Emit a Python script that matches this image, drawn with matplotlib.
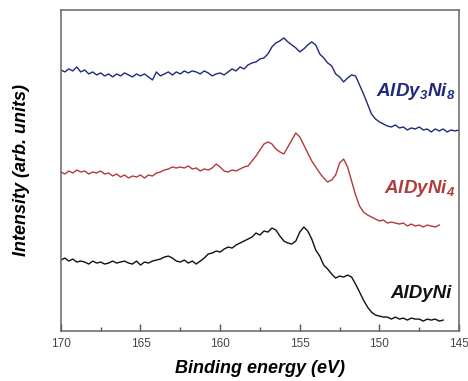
import numpy as np
import matplotlib
matplotlib.use("Agg")
import matplotlib.pyplot as plt
from matplotlib.ticker import MultipleLocator

plt.rcParams['font.family'] = ['Liberation Sans', 'DejaVu Sans']
plt.rcParams['mathtext.fontset'] = 'custom'
plt.rcParams['mathtext.rm'] = 'Liberation Sans:italic:bold'
plt.rcParams['mathtext.it'] = 'Liberation Sans:italic:bold'

# binding energy grids (eV), 0.25 eV step
e_blue = np.arange(170.0, 144.99, -0.25)
e_red = np.arange(170.0, 146.24, -0.25)
e_black = np.arange(170.0, 145.99, -0.25)

# intensities (arb. units)
i_aldy3ni8 = [261, 259, 262, 260, 264, 259, 261, 257, 259, 256,
              258, 255, 257, 254, 257, 255, 258, 256, 254, 257,
              255, 257, 254, 251, 259, 255, 257, 259, 256, 259,
              257, 260, 258, 260, 259, 257, 260, 258, 255, 257,
              258, 256, 259, 262, 260, 264, 262, 266, 268, 269,
              272, 273, 277, 284, 288, 290, 293, 289, 286, 283,
              279, 282, 286, 289, 286, 277, 273, 268, 265, 257,
              254, 249, 253, 256, 255, 246, 237, 227, 217, 212,
              209, 207, 205, 204, 206, 203, 204, 201, 203, 202,
              204, 201, 202, 199, 202, 200, 202, 199, 201, 200,
              201]

i_aldyni4 = [159, 157, 160, 158, 161, 159, 160, 157, 159, 158,
             160, 157, 158, 155, 157, 154, 156, 153, 155, 154,
             156, 153, 156, 155, 158, 159, 161, 162, 164, 163,
             164, 163, 165, 162, 163, 160, 162, 161, 163, 167,
             164, 160, 159, 161, 160, 162, 164, 165, 170, 175,
             181, 187, 189, 187, 182, 179, 177, 184, 191, 198,
             194, 186, 178, 170, 164, 158, 153, 149, 151, 156,
             168, 172, 164, 150, 136, 125, 119, 116, 114, 112,
             110, 111, 108, 109, 108, 107, 108, 105, 107, 105,
             106, 104, 106, 105, 104, 106]

i_aldyni = [71, 73, 70, 72, 69, 70, 69, 67, 70, 68,
            69, 67, 68, 70, 68, 69, 70, 68, 67, 70,
            66, 69, 68, 70, 71, 72, 74, 75, 73, 70,
            69, 71, 68, 70, 67, 70, 73, 77, 78, 80,
            79, 82, 84, 83, 86, 88, 90, 92, 94, 98,
            96, 100, 99, 103, 101, 95, 90, 88, 87, 90,
            99, 104, 100, 92, 81, 75, 66, 62, 57, 53,
            55, 54, 56, 54, 47, 39, 31, 24, 19, 16,
            15, 14, 14, 12, 14, 12, 13, 11, 13, 12,
            12, 10, 12, 11, 12, 10, 11]

fig = plt.figure(figsize=(4.68, 3.81), dpi=100)
ax = fig.add_axes([0.130, 0.131, 0.851, 0.843])

ax.plot(e_blue, i_aldy3ni8, color='#1f2a7c', lw=1.0)
ax.plot(e_red, i_aldyni4, color='#b23b3b', lw=1.0)
ax.plot(e_black, i_aldyni, color='#111111', lw=1.0)

# labels next to the curves
ax.text(145.25, 239, 'AlDy$_3$Ni$_8$', color='#1f2a7c', fontsize=13.5,
        fontweight='bold', style='italic', ha='right', va='center')
ax.text(145.25, 143, 'AlDyNi$_4$', color='#b23b3b', fontsize=13.5,
        fontweight='bold', style='italic', ha='right', va='center')
ax.text(145.45, 38, 'AlDyNi', color='#111111', fontsize=13.5,
        fontweight='bold', style='italic', ha='right', va='center')

ax.set_xlim(170, 145)
ax.set_ylim(0, 321)
ax.set_yticks([])
ax.xaxis.set_major_locator(MultipleLocator(5))
ax.xaxis.set_minor_locator(MultipleLocator(2.5))
ax.tick_params(axis='x', which='major', direction='in', length=5, width=1,
               color='#555555', labelsize=8.5, labelcolor='#444444', pad=5)
ax.tick_params(axis='x', which='minor', direction='in', length=3, width=1,
               color='#555555')
for s in ax.spines.values():
    s.set_color('#666666')
    s.set_linewidth(1.1)

ax.set_xlabel('Binding energy (eV)', fontsize=13, fontweight='bold',
              style='italic', labelpad=7)
ax.set_ylabel('Intensity (arb. units)', fontsize=13, fontweight='bold',
              style='italic', labelpad=22)

fig.savefig('out.png', dpi=100)
